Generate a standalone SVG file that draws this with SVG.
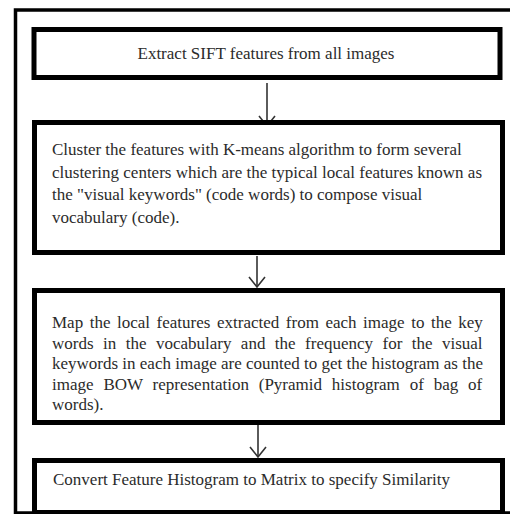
<svg xmlns="http://www.w3.org/2000/svg" width="510" height="514" viewBox="0 0 510 514">
<style>
.frame{fill:none;stroke:#000;stroke-width:3.5}
.box{fill:#fff;stroke:#000;stroke-width:5}
.t{font-family:"Liberation Serif","Times New Roman",serif;font-size:17px;fill:#2b2b2b}
.c{stroke:#333;stroke-width:1.6;fill:none}
</style>
<rect width="510" height="514" fill="#fff"/>
<rect class="frame" x="15.5" y="10" width="600" height="503"/>
<g id="connectors">
<line class="c" x1="267" y1="83" x2="267" y2="126"/>
<polyline class="c" points="259,116 267,126 275,116"/>
<line class="c" x1="257" y1="256" x2="257" y2="287"/>
<polyline class="c" points="249,277 257,287 265,277"/>
<line class="c" x1="258" y1="424" x2="258" y2="457"/>
<polyline class="c" points="250,447 258,457 266,447"/>
</g>
<g id="node1">
<rect class="box" x="34" y="29.5" width="466" height="48"/>
<text class="t" x="266" y="59" text-anchor="middle">Extract SIFT features from all images</text>
</g>
<g id="node2">
<rect class="box" x="34.5" y="122.5" width="468" height="130"/>
<text class="t" x="52" y="155">Cluster the features with K-means algorithm to form several</text>
<text class="t" x="52" y="177.5">clustering centers which are the typical local features known as</text>
<text class="t" x="52" y="200">the "visual keywords" (code words) to compose visual</text>
<text class="t" x="52" y="222.5">vocabulary (code).</text>
</g>
<g id="node3">
<rect class="box" x="34.5" y="290.5" width="468" height="132"/>
<text class="t" x="52" y="328" word-spacing="2.3">Map the local features extracted from each image to the key</text>
<text class="t" x="52" y="348.5" word-spacing="5.2">words in the vocabulary and the frequency for the visual</text>
<text class="t" x="52" y="369">keywords in each image are counted to get the histogram as the</text>
<text class="t" x="52" y="389.5" word-spacing="5.6">image BOW representation (Pyramid histogram of bag of</text>
<text class="t" x="52" y="410">words).</text>
</g>
<g id="node4">
<rect class="box" x="34.5" y="460.5" width="468" height="52"/>
<text class="t" x="53" y="485">Convert Feature Histogram to Matrix to specify Similarity</text>
</g>
</svg>
